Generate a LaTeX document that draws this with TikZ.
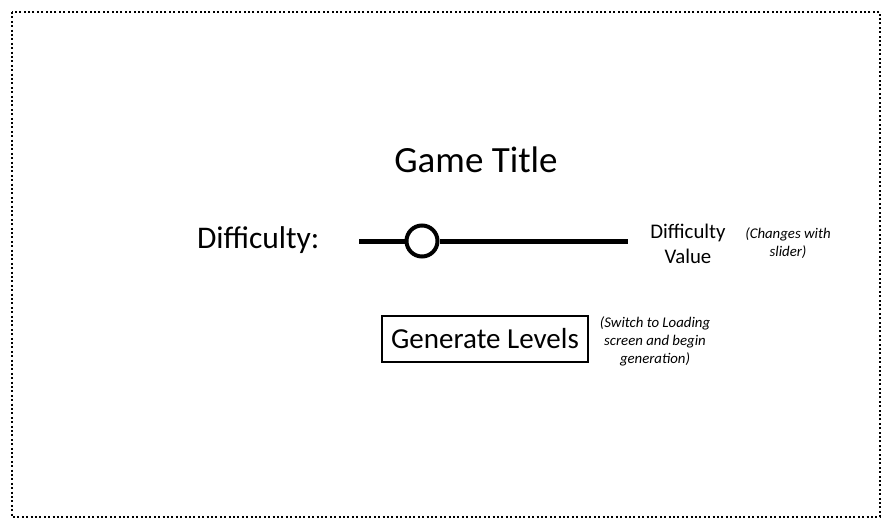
\documentclass[tikz,border=0pt]{standalone}
\usepackage{fontspec}
\setmainfont{Carlito}
\begin{document}
\begin{tikzpicture}[x=1pt,y=-1pt,
  txt/.style={inner sep=0pt,outer sep=0pt,align=center},
  note/.style={txt,font=\fontsize{14.8}{18}\selectfont\itshape}]
\useasboundingbox (0,0) rectangle (894,527);
\draw[line width=2pt,dash pattern=on 2pt off 2.4pt] (12,12) rectangle (880,517);
\node[txt,font=\fontsize{37}{40}\selectfont] (title) at (476,160) {Game Title};
\node[txt,font=\fontsize{31.5}{34}\selectfont,anchor=west] (diff) at (197,240) {Difficulty:};
\coordinate (sl) at (359,241);
\coordinate (sr) at (628,241);
\node[circle,draw,line width=4pt,minimum size=31pt,inner sep=0pt,fill=white] (knob) at (422,241) {};
\draw[line width=5pt] (sl) -- (knob.west);
\draw[line width=5pt] (knob.east) -- (sr);
\node[txt,font=\fontsize{20.8}{25}\selectfont] (val) at (688,244) {Difficulty\\Value};
\node[note] (chg) at (788,243) {(Changes with\\slider)};
\node[draw,line width=2pt,minimum width=206pt,minimum height=46pt,inner sep=0pt,font=\fontsize{29}{32}\selectfont] (gen) at (485,339) {Generate Levels};
\node[note] (sw) at (655,341) {(Switch to Loading\\screen and begin\\generation)};
\end{tikzpicture}
\end{document}
